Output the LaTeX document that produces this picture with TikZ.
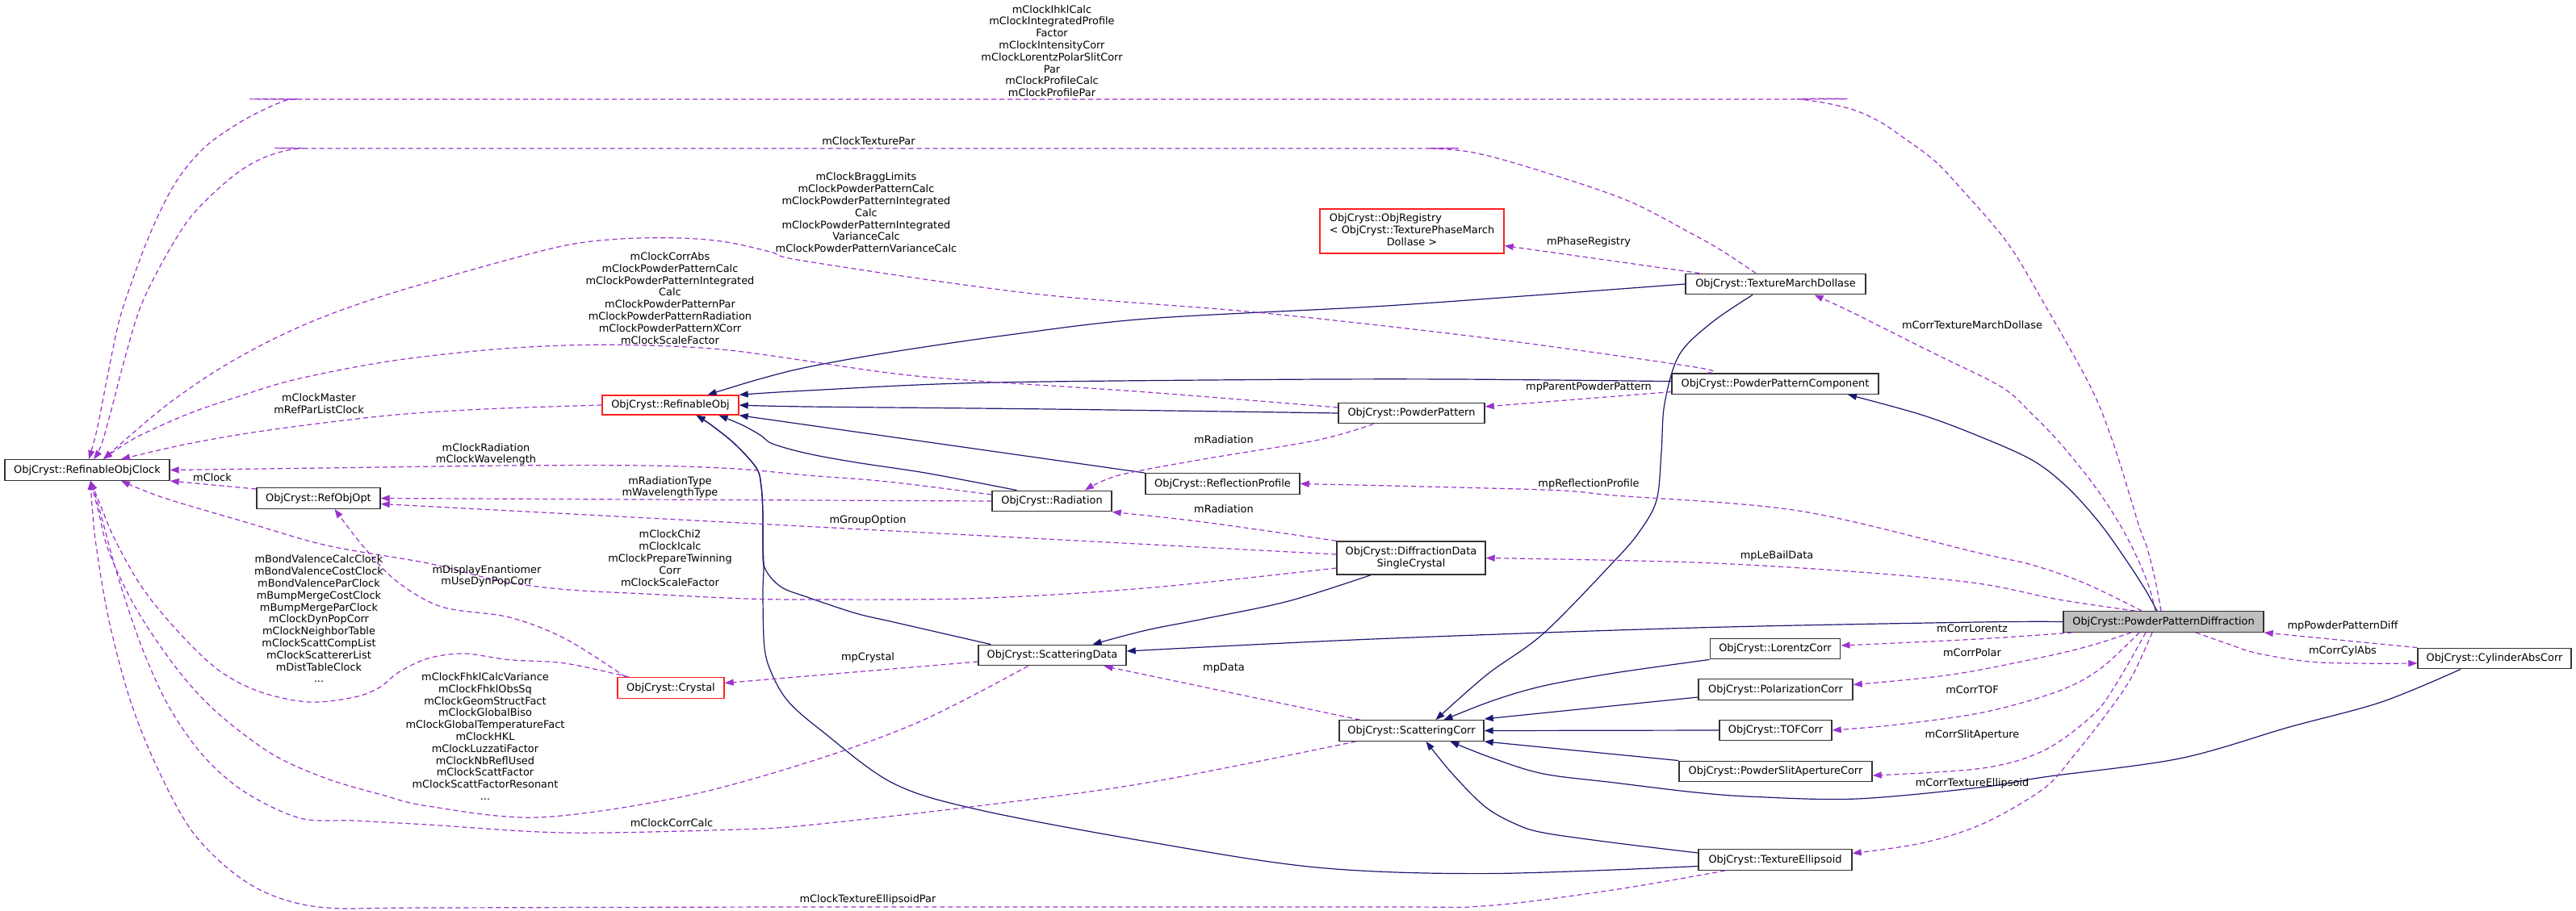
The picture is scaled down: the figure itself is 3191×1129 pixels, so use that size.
\documentclass[tikz,border=0pt]{standalone}
\usepackage{fontspec}
\setmainfont{DejaVu Sans}
\usetikzlibrary{arrows.meta}
\definecolor{usecol}{HTML}{9A32CD}
\definecolor{inhcol}{HTML}{191970}
\definecolor{boxred}{HTML}{FF2020}
\definecolor{selgray}{HTML}{BFBFBF}
\begin{document}
\begin{tikzpicture}[x=1pt,y=-1pt,
  cls/.style={draw=black!80, line width=1.4pt, fill=white, inner sep=0pt, align=center,
    font=\fontsize{12.9}{14.8}\selectfont, minimum height=25.5pt},
  redcls/.style={cls, draw=boxred},
  lab/.style={inner sep=0pt, align=center, font=\fontsize{12.9}{14.8}\selectfont},
  use/.style={draw=usecol, line width=1.2pt, dash pattern=on 6pt off 4pt,
    -{Triangle[length=11pt,width=8pt]}, smooth, tension=0.55},
  inh/.style={draw=inhcol, line width=1.2pt, -{Triangle[length=11pt,width=8pt]}, smooth, tension=0.55},
]
\fill[white] (0,0) rectangle (3191,1129);
\useasboundingbox (0,0) rectangle (3191,1129);

% ---------- classes ----------
\node[cls, minimum width=204pt] (clock) at (108,582.5) {ObjCryst::RefinableObjClock};
\node[redcls, minimum width=169pt, minimum height=24pt] (robj) at (830.5,502) {ObjCryst::RefinableObj};
\node[cls, minimum width=153pt] (opt) at (394.5,617.5) {ObjCryst::RefObjOpt};
\node[redcls, minimum width=132pt] (crystal) at (831,852.5) {ObjCryst::Crystal};
\node[cls, minimum width=148pt] (rad) at (1303,621) {ObjCryst::Radiation};
\node[cls, minimum width=191pt] (rprof) at (1514.5,599.5) {ObjCryst::ReflectionProfile};
\node[cls, minimum width=184pt, minimum height=41pt] (ddsc) at (1748,691.5) {ObjCryst::DiffractionData\\SingleCrystal};
\node[cls, minimum width=183pt] (sdata) at (1303.5,812) {ObjCryst::ScatteringData};
\node[cls, minimum width=179pt] (scorr) at (1748.5,905.5) {ObjCryst::ScatteringCorr};
\node[redcls, minimum width=228pt, minimum height=55pt] (reg) at (1749,286.5)
  {\begin{tabular}{@{}l@{}}ObjCryst::ObjRegistry\\\textless{} ObjCryst::TexturePhaseMarch\\\multicolumn{1}{@{}c@{}}{Dollase \textgreater}\end{tabular}};
\node[cls, minimum width=181pt] (pp) at (1748.5,512) {ObjCryst::PowderPattern};
\node[cls, minimum width=223pt] (tmd) at (2199.5,352) {ObjCryst::TextureMarchDollase};
\node[cls, minimum width=256pt] (ppc) at (2199,475.6) {ObjCryst::PowderPatternComponent};
\node[cls, fill=selgray, minimum width=248pt] (ppd) at (2680,770.5) {ObjCryst::PowderPatternDiffraction};
\node[cls, minimum width=161.5pt] (lor) at (2199,804) {ObjCryst::LorentzCorr};
\node[cls, minimum width=191pt] (pol) at (2199.5,854.5) {ObjCryst::PolarizationCorr};
\node[cls, minimum width=139pt] (tof) at (2199.5,905) {ObjCryst::TOFCorr};
\node[cls, minimum width=239pt] (psac) at (2199.5,956) {ObjCryst::PowderSlitApertureCorr};
\node[cls, minimum width=190pt] (tell) at (2199,1065.5) {ObjCryst::TextureEllipsoid};
\node[cls, minimum width=190pt] (cyl) at (3090,816) {ObjCryst::CylinderAbsCorr};

% ---------- inheritance (solid) ----------
\draw[inh] plot coordinates {(tmd.west) (1900,366) (1701,380) (1421,395) (1250,415) (1100,437) (1000,455) (940,470) ([xshift=46pt]robj.north)};
\draw[inh] plot coordinates {([yshift=3pt]ppc.west) (1800,470) (1561,470.5) (1210,474.5) (1000,484) (robj.north east)};
\draw[inh] plot coordinates {(pp.west) (1300,507) (1000,504) (robj.east)};
\draw[inh] (rprof.north west) -- (robj.south east);
\draw[inh] plot coordinates {([xshift=-43.5pt]rad.north) (1200,596) (1140,585) (1060,573) (1000,562) (957,550) (943,540) (920,527) ([xshift=60pt]robj.south)};
\draw[inh] plot coordinates {([xshift=16pt]sdata.north west) (1105,770.5) (1060,760) (1000,740) (967,727) (947,703) (945,670) (945,637) (943,603) (937,580) (910,550) (880,526) ([xshift=32pt]robj.south)};
\draw[inh] plot coordinates {([yshift=-8pt]tell.west) (1842,1082.6) (1631,1075) (1421,1043) (1210,1003) (1105,970) (1017,905) (977,870) (957,837) (947,803) (945,737) (946,703) (945,670) (945,637) (943,603) (937,580) (910,550) (880,526) ([xshift=32pt]robj.south)};
\draw[inh] plot coordinates {([xshift=-50pt]ddsc.south) (1596,745) (1491,767) (1420,781) ([xshift=50pt]sdata.north)};
\draw[inh] plot coordinates {(ppd.west) (2450,771) (2100,778) (1700,792) ([yshift=5pt]sdata.east)};
\draw[inh] plot coordinates {([xshift=-28.5pt]tmd.south) (2120,400) (2080,440) (2062,500) (2058,560) (2052,620) (2030,660) (1998,697) (1912,785) (1842,836) ([xshift=30pt]scorr.north)};
\draw[inh] plot coordinates {(lor.south west) (2000,834) (1912,850) (1850,868) ([xshift=40pt]scorr.north)};
\draw[inh] ([yshift=-9.5pt]pol.west) -- ([yshift=14.5pt]scorr.east);
\draw[inh] (tof.west) -- (scorr.east);
\draw[inh] (psac.north west) -- (scorr.south east);
\draw[inh] plot coordinates {([xshift=-42pt]cyl.south) (2950,870) (2836,901) (2700,940) (2532,963) (2456,975.5) (2300,990) (2175,987.5) (2100,982) (2000,970) (1912,959) (1850,940) ([xshift=48pt]scorr.south)};
\draw[inh] plot coordinates {([yshift=8.5pt]tell.west) (2000,1044.5) (1912,1032) (1877,1021) (1840,1000) (1800,960) ([xshift=18pt]scorr.south)};
\draw[inh] plot coordinates {([xshift=-8pt]ppd.north) (2657,730) (2633,693) (2600,647) (2560,603) (2517,570) (2450,540) (2380,514) ([xshift=90pt]ppc.south)};

% ---------- usage (dashed) ----------
\draw[use] plot coordinates {([xshift=-3pt]ppd.north) (2670,720) (2660,680) (2650,653) (2640,620) (2617,547) (2590,480) (2532,376) (2486,300) (2425,229) (2395,198) (2357,170) (2327,150) (2289,134) (2228,123) (2150,123) (450,123) (370,123) (347,127) (300,150) (253,183) (217,227) (187,287) (163,350) (147,400) (133,467) (120,533) ([xshift=2pt]clock.north)};
\draw[use] plot coordinates {([xshift=-24.5pt]tmd.north) (2135,312) (2100,292) (2017,249) (1912,213) (1830,190) (1772,184) (1700,184) (450,184) (373,184) (333,193) (300,210) (267,237) (233,273) (200,327) (173,383) (153,450) (140,500) (126,550) ([xshift=8pt]clock.north)};
\draw[use] plot coordinates {([xshift=-85pt]ppc.north) (2100,455) (1842,419) (1561,387.5) (1280,364) (1000,324) (954,312) (900,300) (842,295) (770,296) (701,304) (600,330) (480,365) (400,393) (333,423) (267,460) (200,507) ([xshift=20pt]clock.north)};
\draw[use] plot coordinates {([yshift=7pt]pp.west) (1421,486) (1210,472) (1100,462) (912,435) (800,428) (701,428) (600,434) (480,448) (367,470) (300,490) (233,513) (167,543) ([xshift=20pt]clock.north)};
\draw[use] plot coordinates {(robj.west) (600,507) (480,515) (333,533) (233,550) ([xshift=42pt]clock.north)};
\draw[use] plot coordinates {([yshift=8pt]rad.west) (1100,597) (1000,589) (912,581) (800,577) (631,577) (400,580) (clock.east)};
\draw[use] ([yshift=-2pt]opt.north west) -- (clock.south east);
\draw[use] (rad.west) -- (opt.east);
\draw[use] ([yshift=4.5pt]ddsc.west) -- ([yshift=-7pt]opt.east);
\draw[use] plot coordinates {([yshift=-12.5pt]ddsc.west) (1421,728.7) (1210,741.5) (1000,743) (912,741.5) (800,736) (701,730.6) (620,720) (530,698) (405,676) (304,647) (203,617) ([xshift=42pt]clock.south)};
\draw[use] plot coordinates {([xshift=-56pt]crystal.north) (701,792) (631,765) (547,752) (491,720) (449,676) ([xshift=20pt]opt.south)};
\draw[use] plot coordinates {([xshift=-52pt]crystal.north) (700,822) (631,817.7) (575,810) (530,816) (494,833) (470,852) (439,864) (382,870) (321,857) (270,830) (220,782) (176,728) (142,668) (122,620) ([xshift=4pt]clock.south)};
\draw[use] plot coordinates {([xshift=-30pt]sdata.south) (1140,894) (1000,945) (842,988) (666,1013) (530,999) (473,985) (405,965) (338,935) (270,884) (220,830) (169,755) (135,684) (122,634) ([xshift=4pt]clock.south)};
\draw[use] plot coordinates {([xshift=-69pt]scorr.south) (1421,970) (1210,999) (1000,1022.7) (912,1028) (701,1032) (530,1022) (439,1017) (372,1014) (304,982) (253,938) (210,877) (176,803) (145,711) (122,627) ([xshift=4pt]clock.south)};
\draw[use] plot coordinates {([xshift=-62pt]tell.south) (2000,1102.6) (1842,1122.5) (1700,1124) (1000,1124) (530,1125) (405,1125) (338,1110) (287,1080) (237,1029) (196,954) (162,870) (135,769) (118,668) ([xshift=4pt]clock.south)};
\draw[use] plot coordinates {([xshift=-10pt]ppd.north) (2663,730) (2650,697) (2630,657) (2607,620) (2583,587) (2550,547) (2517,513) (2480,480) (2400,440) (2334,407) (2290,385) ([xshift=48pt]tmd.south)};
\draw[use] ([xshift=18pt]tmd.north west) -- ([yshift=-18pt]reg.east);
\draw[use] ([yshift=-10pt]ppc.west) -- ([yshift=8pt]pp.east);
\draw[use] plot coordinates {([xshift=-47pt]pp.south) (1631,545.6) (1491,569) (1386,589) ([xshift=41pt]rad.north)};
\draw[use] plot coordinates {(ddsc.north west) (1491,647) (rad.south east)};
\draw[use] plot coordinates {([xshift=-27pt]ppd.north) (2583,723) (2517,700) (2450,685) (2228,633) (2000,614) (1912,607) (rprof.east)};
\draw[use] plot coordinates {([xshift=-35pt]ppd.north) (2550,743) (2450,723) (2304,709) (2100,697) (ddsc.east)};
\draw[use] plot coordinates {([xshift=-113pt]ppd.south) (2450,792) ([yshift=4pt]lor.east)};
\draw[use] plot coordinates {([xshift=-40pt]ppd.south) (2590,800) (2532,814) (2418,836) ([yshift=6pt]pol.east)};
\draw[use] plot coordinates {([xshift=-30pt]ppd.south) (2600,830) (2547,857.6) (2456,883) (2350,898) (tof.east)};
\draw[use] plot coordinates {([xshift=-22pt]ppd.south) (2620,850) (2592,886.6) (2532,930) (2456,952) ([yshift=-5pt]psac.east)};
\draw[use] plot coordinates {([xshift=-14pt]ppd.south) (2640,840) (2608,886.6) (2570,935) (2532,977) (2456,1021) (2380,1045) ([yshift=8pt]tell.east)};
\draw[use] (cyl.north west) -- (ppd.south east);
\draw[use] plot coordinates {([xshift=40pt]ppd.south) (2760,798) (2798,810) (2874,821) ([yshift=-6pt]cyl.west)};
\draw[use] ([xshift=-64pt]scorr.north) -- ([xshift=64pt]sdata.south);
\draw[use] ([yshift=-8pt]sdata.west) -- ([yshift=6pt]crystal.east);

% ---------- labels ----------
\node[lab] (l1) at (1303,63) {mClockIhklCalc\\mClockIntegratedProfile\\Factor\\mClockIntensityCorr\\mClockLorentzPolarSlitCorr\\Par\\mClockProfileCalc\\mClockProfilePar};
\node[lab] (l2) at (1076,175) {mClockTexturePar};
\node[lab] (l3) at (1073,263.5) {mClockBraggLimits\\mClockPowderPatternCalc\\mClockPowderPatternIntegrated\\Calc\\mClockPowderPatternIntegrated\\VarianceCalc\\mClockPowderPatternVarianceCalc};
\node[lab] (l4) at (830,369.5) {mClockCorrAbs\\mClockPowderPatternCalc\\mClockPowderPatternIntegrated\\Calc\\mClockPowderPatternPar\\mClockPowderPatternRadiation\\mClockPowderPatternXCorr\\mClockScaleFactor};
\node[lab] (l5) at (395,500) {mClockMaster\\mRefParListClock};
\node[lab] (l6) at (602,563) {mClockRadiation\\mClockWavelength};
\node[lab] (l7) at (263,591.6) {mClock};
\node[lab] (l8) at (830,604) {mRadiationType\\mWavelengthType};
\node[lab] (l9) at (1075,644.6) {mGroupOption};
\node[lab] (l10) at (830,691.7) {mClockChi2\\mClockIcalc\\mClockPrepareTwinning\\Corr\\mClockScaleFactor};
\node[lab] (l11) at (603,714) {mDisplayEnantiomer\\mUseDynPopCorr};
\node[lab] (l12) at (395,767) {mBondValenceCalcClock\\mBondValenceCostClock\\mBondValenceParClock\\mBumpMergeCostClock\\mBumpMergeParClock\\mClockDynPopCorr\\mClockNeighborTable\\mClockScattCompList\\mClockScattererList\\mDistTableClock\\...};
\node[lab] (l13) at (601,912.5) {mClockFhklCalcVariance\\mClockFhklObsSq\\mClockGeomStructFact\\mClockGlobalBiso\\mClockGlobalTemperatureFact\\mClockHKL\\mClockLuzzatiFactor\\mClockNbReflUsed\\mClockScattFactor\\mClockScattFactorResonant\\...};
\node[lab] (l14) at (832,1020) {mClockCorrCalc};
\node[lab] (l15) at (1075,1115) {mClockTextureEllipsoidPar};
\node[lab] (l16) at (2443,403) {mCorrTextureMarchDollase};
\node[lab] (l17) at (1968,300) {mPhaseRegistry};
\node[lab] (l18) at (1968,480) {mpParentPowderPattern};
\node[lab] (l19) at (1516,545) {mRadiation};
\node[lab] (l20) at (1516,631) {mRadiation};
\node[lab] (l21) at (1968,600) {mpReflectionProfile};
\node[lab] (l22) at (2201,689) {mpLeBailData};
\node[lab] (l23) at (2443,779) {mCorrLorentz};
\node[lab] (l24) at (2443,809) {mCorrPolar};
\node[lab] (l25) at (2443,855) {mCorrTOF};
\node[lab] (l26) at (2443,911) {mCorrSlitAperture};
\node[lab] (l27) at (2443,971) {mCorrTextureEllipsoid};
\node[lab] (l28) at (2902,776) {mpPowderPatternDiff};
\node[lab] (l29) at (2902,807) {mCorrCylAbs};
\node[lab] (l30) at (1516,828) {mpData};
\node[lab] (l31) at (1075,815) {mpCrystal};
\end{tikzpicture}
\end{document}
